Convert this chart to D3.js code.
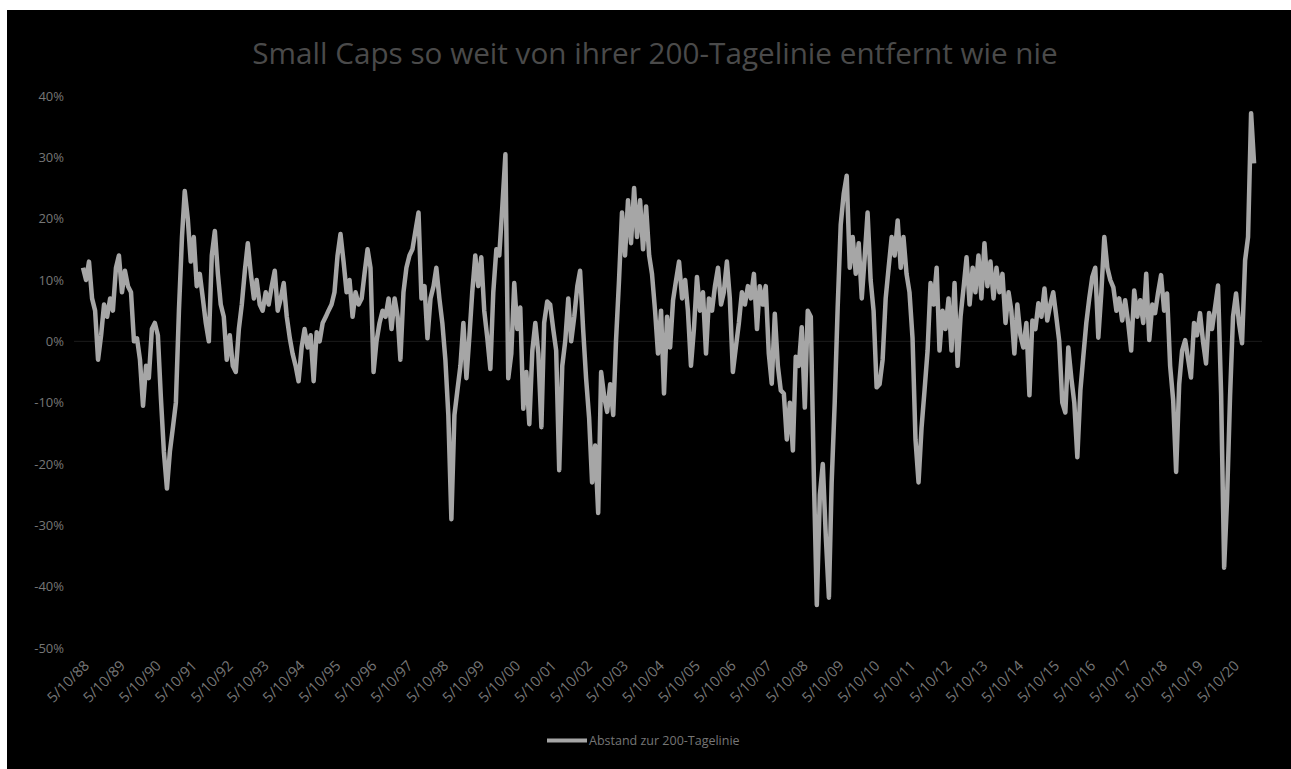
<!DOCTYPE html>
<html>
<head>
<meta charset="utf-8">
<script src="https://cdn.jsdelivr.net/npm/d3@7/dist/d3.min.js"></script>
<style>
  html, body { margin: 0; padding: 0; background: #fff; }
  svg { display: block; }
  text { font-family: "Open Sans", sans-serif; }
</style>
</head>
<body>
<svg id="chart" width="1291" height="769"></svg>
<script>
// === Daten ===
const title = 'Small Caps so weit von ihrer 200-Tagelinie entfernt wie nie';
const seriesName = 'Abstand zur 200-Tagelinie';
const firstMonth = '1988-05-10';
// monatliche Werte in %, je Zeile ein Jahr ab Mai
const values = [
  12, 10, 13, 7, 5, -3, 1, 6, 4, 7, 5, 12,
  14, 8, 11.5, 9, 8, 0, 0.5, -3, -10.5, -4, -6, 2,
  3, 1, -9, -18, -24, -18, -14, -10, 5, 17, 24.5, 20,
  13, 17, 9, 11, 7, 3, 0, 14, 18, 11, 6, 4,
  -3, 1, -4, -5, 2, 6, 11.5, 16, 11, 7, 10, 6,
  5, 8, 6, 9, 11.5, 5, 7, 9.5, 4, 0.5, -2, -4,
  -6.5, -1, 2, -1, 1, -6.5, 1.5, 0, 3, 4, 5, 6,
  8, 14, 17.5, 13, 8, 10, 4, 8, 6, 7, 11, 15,
  12, -5, 0, 3, 5, 4, 7, 2, 7, 4, -3, 8,
  12, 14, 15, 18, 21, 7, 9, 0.5, 7, 9, 12, 7,
  3, -3, -12, -29, -12, -8, -4, 3, -6, 1, 8, 14,
  9, 13.7, 5, 0.6, -4.5, 8, 15, 14, 22, 30.5, -6, -2,
  9.5, 2, 5.5, -11, -5, -13.5, -1.5, 3, -2, -14, 3, 6.5,
  6, 2, -1.5, -21, -4, 0, 7, 0, 4, 9, 11.5, 2,
  -6, -12.5, -23, -17, -28, -5, -9, -11.5, -7, -12, 0, 10,
  21, 14, 23, 16, 25, 17, 23, 15, 22, 14, 11, 5,
  -2, 5, -8.5, 4, -1, 6.7, 10, 13, 7, 10, 5, -4,
  2, 10.5, 5, 8, -2, 7, 5, 9, 12, 6, 8, 13,
  7, -5, -1, 3, 8, 6, 9, 7, 11, 2, 9, 6,
  9, -2, -6.9, 4.5, -4, -8, -8.5, -16, -10, -17.8, -2.5, -4,
  2.3, -10.8, 5, 4, -22, -43, -25, -20, -32, -41.8, -23, -10,
  5.5, 19, 24, 27, 12, 17, 11, 16, 7, 14, 21, 10,
  5, -7.5, -7, -3, 7, 12, 17, 14, 19.7, 12, 17, 11,
  8, 0.5, -16, -23, -14, -8, -1.5, 9.5, 6, 12, -1.5, 5,
  2, 7, -1.5, 9.5, -4, 4, 8.8, 13.7, 6, 12, 8, 14,
  7, 16, 9, 13, 7, 12, 8, 11, 3, 8, 5, -2,
  6, 1, -1, 3, -8.8, 3.4, 2, 6.2, 4, 8.6, 3.4, 6,
  8, 4, 0, -10, -11.6, -1, -6, -10, -18.9, -8, -2.6, 3,
  7, 10.5, 12, 0.6, 8, 17, 12, 10, 8.8, 5, 7, 3.4,
  6.7, 3, -1.5, 8.3, 4, 6.7, 3, 11, 0.2, 6, 4.6, 8,
  10.8, 5, 7.8, -4, -9.6, -21.3, -7, -1.5, 0.2, -3, -5.9, 3,
  1, 4.6, 0, -3.6, 4.6, 2, 5.6, 9.1, -8.5, -36.9, -26, -9,
  4, 7.8, 3, -0.3, 13.2, 17, 37.2, 29
];
const yTicks = [-50, -40, -30, -20, -10, 0, 10, 20, 30, 40];
const tickYears = d3.range(1988, 2021);

// === Aufbau ===
const svg = d3.select('#chart');
const W = 1291, H = 769;
const start = d3.timeParse('%Y-%m-%d')(firstMonth);
const data = values.map((v, i) => ({ date: d3.timeMonth.offset(start, i), v }));
const tickDates = tickYears.map(y => new Date(y, 4, 10));

const x = d3.scaleTime()
  .domain([new Date(1988, 4, 10), new Date(2020, 4, 10)])
  .range([83, 1233]);
const y = d3.scaleLinear().domain([-50, 40]).range([648, 96]);

// Hintergrund (schwarz, mit weißem Rand oben/links)
svg.append('rect').attr('x', 7).attr('y', 10).attr('width', W - 7).attr('height', H - 10).attr('fill', '#000');

// Titel (auf Breite des Originals gebracht)
const t = svg.append('text')
  .attr('x', 655).attr('y', 64)
  .attr('text-anchor', 'middle')
  .attr('fill', '#4a4a4a')
  .attr('font-size', 28)
  .text(title);
const tl = t.node().getComputedTextLength();
t.attr('font-size', 28 * 806 / tl);

// Y-Achse
const yAxis = svg.append('g')
  .attr('transform', 'translate(64,0)')
  .call(d3.axisLeft(y).tickValues(yTicks).tickSize(0).tickPadding(0).tickFormat(d => d + '%'));
yAxis.select('.domain').remove();
yAxis.selectAll('text').attr('fill', '#767676').attr('font-size', 13).attr('font-family', '"Open Sans", sans-serif');

// Nulllinie
svg.append('line')
  .attr('x1', 74).attr('x2', 1262)
  .attr('y1', y(0)).attr('y2', y(0))
  .attr('stroke', '#1c1c1c').attr('stroke-width', 1);

// X-Achse
const xAxis = svg.append('g')
  .attr('transform', 'translate(0,660)')
  .call(d3.axisBottom(x).tickValues(tickDates).tickSize(0).tickPadding(0).tickFormat(d3.timeFormat('%-m/%-d/%y')));
xAxis.select('.domain').remove();
xAxis.selectAll('text')
  .attr('fill', '#767676').attr('font-size', 14.5).attr('font-family', '"Open Sans", sans-serif')
  .attr('text-anchor', 'end')
  .attr('dy', '0.35em')
  .attr('transform', 'translate(3,3) rotate(-45)');

// Linie
const line = d3.line().x(d => x(d.date)).y(d => y(d.v));
svg.append('path')
  .datum(data)
  .attr('d', line)
  .attr('fill', 'none')
  .attr('stroke', '#a6a6a6')
  .attr('stroke-width', 4.5)
  .attr('stroke-linejoin', 'round');

// Legende
svg.append('line')
  .attr('x1', 547).attr('x2', 587).attr('y1', 740.5).attr('y2', 740.5)
  .attr('stroke', '#a6a6a6').attr('stroke-width', 4);
svg.append('text')
  .attr('x', 589).attr('y', 745)
  .attr('fill', '#767676').attr('font-size', 12.5)
  .text(seriesName);
</script>
</body>
</html>
